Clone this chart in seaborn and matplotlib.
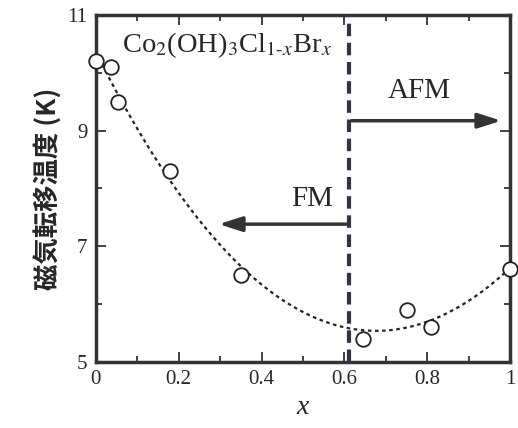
import numpy as np
import pandas as pd
import seaborn as sns
import matplotlib.pyplot as plt
from matplotlib.ticker import MultipleLocator, FixedLocator, FormatStrFormatter

# data
x_vals = [0.0, 0.036, 0.053, 0.18, 0.35, 0.645, 0.75, 0.81, 1.0]
t_vals = [10.2, 10.1, 9.5, 8.3, 6.5, 5.4, 5.9, 5.6, 6.6]
x_boundary = 0.611
afm_arrow_y = 9.17
fm_arrow_y = 7.38
y_major = [5, 7, 9, 11]
y_minor = [6, 8, 10]

df = pd.DataFrame({"x": x_vals, "T": t_vals})

sns.set_style("ticks")
plt.rcParams["font.family"] = ["Liberation Serif", "DejaVu Serif"]
plt.rcParams["mathtext.fontset"] = "stix"

fig, ax = plt.subplots(figsize=(5.18, 4.28), dpi=100)

# fitted trend curve
sns.regplot(data=df, x="x", y="T", order=3, ci=None, scatter=False, truncate=True,
            line_kws=dict(color="#222222", lw=1.6, ls=(0, (1.6, 1.6))), ax=ax)
sns.scatterplot(data=df, x="x", y="T", s=110, facecolor="white", edgecolor="#222222",
                linewidth=1.3, zorder=5, clip_on=False, ax=ax)

ax.axvline(x_boundary, color="#333344", lw=3, ls=(0, (3, 1.6)), zorder=3)

ax.annotate("", xy=(0.985, afm_arrow_y), xytext=(x_boundary, afm_arrow_y),
            arrowprops=dict(arrowstyle="-|>,head_length=1.4,head_width=0.45",
                            color="#333333", lw=2.5))
ax.annotate("", xy=(0.29, fm_arrow_y), xytext=(x_boundary, fm_arrow_y),
            arrowprops=dict(arrowstyle="-|>,head_length=1.4,head_width=0.45",
                            color="#333333", lw=2.5))

ax.text(0.78, 9.69, "AFM", fontsize=21, ha="center", va="center")
ax.text(0.523, 7.82, "FM", fontsize=21, ha="center", va="center")
ax.text(0.062, 10.48, r"Co$_2$(OH)$_3$Cl$_{1\text{-}\mathit{x}}$Br$_{\mathit{x}}$",
        fontsize=20.5, ha="left", va="center")

ax.set_xlim(0, 1)
ax.set_ylim(5, 11)
ax.xaxis.set_major_locator(MultipleLocator(0.2))
ax.xaxis.set_minor_locator(MultipleLocator(0.1))
ax.xaxis.set_major_formatter(FormatStrFormatter("%g"))
ax.yaxis.set_major_locator(FixedLocator(y_major))
ax.yaxis.set_minor_locator(FixedLocator(y_minor))
ax.tick_params(which="both", direction="in", top=True, right=True, labelsize=15,
               color="#333333", width=1.3, pad=6)
ax.tick_params(which="major", length=7)
ax.tick_params(which="minor", length=4)
for sp in ax.spines.values():
    sp.set_linewidth(2.5)
    sp.set_color("#333333")

ax.set_xlabel("x", fontsize=20, style="italic")
ax.set_ylabel("磁気転移温度 (K)", fontsize=19, fontweight="bold",
              family=["Noto Sans CJK JP", "DejaVu Sans"])

plt.subplots_adjust(left=0.185, right=0.985, top=0.965, bottom=0.155)
plt.savefig("out.png")
